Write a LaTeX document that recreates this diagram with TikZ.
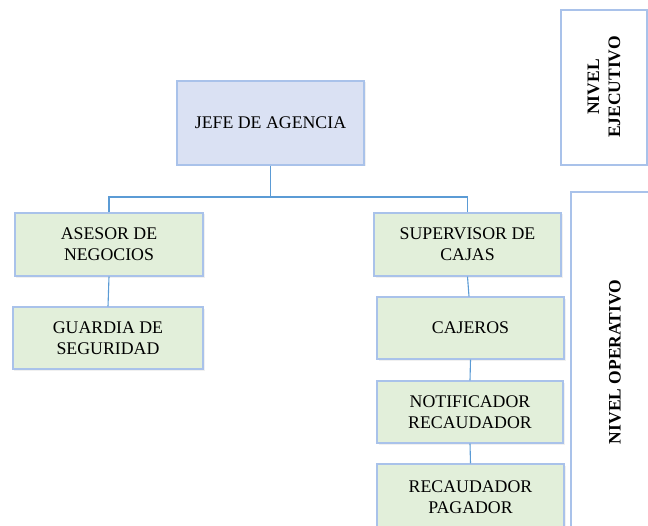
\documentclass[tikz,border=0pt]{standalone}
\usepackage{fontspec}
\setmainfont{Liberation Serif}
\usetikzlibrary{shadows}
\definecolor{bluefill}{HTML}{DAE1F3}
\definecolor{greenfill}{HTML}{E2EFDA}
\definecolor{boxline}{HTML}{A9C2EA}
\definecolor{connline}{HTML}{5B9BD5}
\begin{document}
\begin{tikzpicture}[x=1bp,y=-1bp,
  every node/.style={font=\fontsize{17.8bp}{21bp}\selectfont, align=center, inner sep=0pt},
  orgbox/.style={draw=boxline, line width=1.1bp, fill=greenfill,
     drop shadow={shadow xshift=1.5bp, shadow yshift=-1.5bp, opacity=.12}},
  headbox/.style={orgbox, fill=bluefill},
  levelbox/.style={draw=boxline, line width=1.1bp, fill=white,
     drop shadow={shadow xshift=1.5bp, shadow yshift=-1.5bp, opacity=.12}},
  conn/.style={draw=connline, line width=1.1bp}]
\useasboundingbox (0,0) rectangle (648,526);
\begin{scope}
\clip (0,0) rectangle (648,526);
% level boxes
\node[levelbox, minimum width=86bp, minimum height=155bp] (ejebox) at (604,87.5) {};
\node[levelbox, minimum width=100bp, minimum height=350bp] (opebox) at (621,367) {};
\node[font=\bfseries\fontsize{17.5bp}{21bp}\selectfont, rotate=90] (ejetxt) at (604,87) {NIVEL\\EJECUTIVO};
\node[font=\bfseries\fontsize{17.5bp}{21bp}\selectfont, rotate=90] (opetxt) at (615,362) {NIVEL OPERATIVO};
% org boxes
\node[headbox, minimum width=187bp, minimum height=84bp] (jefe) at (270.5,123) {JEFE DE AGENCIA};
\node[orgbox, minimum width=188bp, minimum height=63bp] (asesor) at (109,244.5) {ASESOR DE\\NEGOCIOS};
\node[orgbox, minimum width=190bp, minimum height=62bp] (guardia) at (108,338) {GUARDIA DE\\SEGURIDAD};
\node[orgbox, minimum width=187bp, minimum height=63bp] (super) at (467.5,244.5) {SUPERVISOR DE\\CAJAS};
\node[orgbox, minimum width=187bp, minimum height=62bp] (cajeros) at (470.5,328) {CAJEROS};
\node[orgbox, minimum width=186bp, minimum height=62bp] (notif) at (470,412) {NOTIFICADOR\\RECAUDADOR};
\node[orgbox, minimum width=187bp, minimum height=67bp] (recpag) at (470.5,497.5) {RECAUDADOR\\PAGADOR};
% connectors
\coordinate (bus) at (270.5,197);
\draw[conn] (jefe.south) -- (bus);
\draw[conn] (asesor.north) |- (bus) -| (super.north);
\draw[conn] (asesor.south) -- (guardia.north);
\draw[conn] (super.south) -- ([xshift=-1.5bp]cajeros.north);
\draw[conn] (cajeros.south) -- (notif.north);
\draw[conn] (notif.south) -- (recpag.north);
\end{scope}
\end{tikzpicture}
\end{document}
